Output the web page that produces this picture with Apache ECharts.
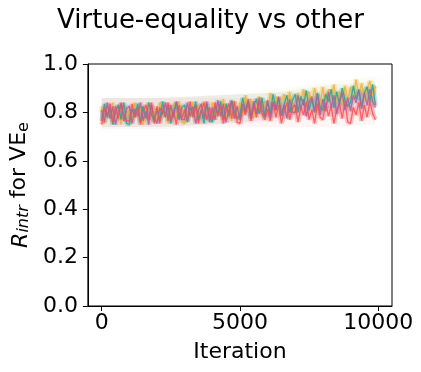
<!DOCTYPE html>
<html>
<head>
<meta charset="utf-8">
<script src="https://cdn.jsdelivr.net/npm/echarts@6/dist/echarts.min.js"></script>
<style>
  html, body { margin: 0; padding: 0; background: #fff; }
  #chart { width: 421px; height: 372px; }
</style>
</head>
<body>
<div id="chart"></div>
<script>
// one value every 100 iterations, 0 .. 9900
const iterStep = 100;
const xTicks = [0, 5000, 10000];
const yTicks = [0, 0.2, 0.4, 0.6, 0.8, 1.0];

const yellowVals = [
  0.825,0.755,0.815,0.785,0.84,0.765,0.805,0.75,0.83,0.775,
  0.81,0.76,0.84,0.78,0.825,0.75,0.80,0.835,0.77,0.815,
  0.77,0.84,0.785,0.825,0.755,0.81,0.835,0.775,0.845,0.76,
  0.755,0.82,0.79,0.84,0.765,0.83,0.78,0.845,0.795,0.77,
  0.84,0.77,0.83,0.80,0.855,0.78,0.82,0.765,0.845,0.79,
  0.84,0.79,0.87,0.805,0.855,0.78,0.83,0.865,0.795,0.845,
  0.81,0.88,0.825,0.865,0.80,0.85,0.875,0.815,0.885,0.80,
  0.815,0.88,0.85,0.895,0.825,0.885,0.84,0.90,0.855,0.83,
  0.905,0.835,0.895,0.865,0.915,0.845,0.885,0.83,0.91,0.855,
  0.905,0.86,0.935,0.87,0.92,0.85,0.895,0.93,0.865,0.91
];
const tealVals = [
  0.765,0.835,0.78,0.82,0.75,0.805,0.83,0.77,0.84,0.755,
  0.75,0.815,0.785,0.835,0.76,0.825,0.775,0.84,0.79,0.765,
  0.815,0.765,0.845,0.78,0.83,0.755,0.805,0.84,0.77,0.82,
  0.83,0.76,0.82,0.79,0.845,0.77,0.81,0.755,0.835,0.78,
  0.76,0.825,0.795,0.845,0.77,0.835,0.785,0.85,0.80,0.775,
  0.79,0.86,0.80,0.845,0.775,0.83,0.855,0.795,0.86,0.78,
  0.845,0.795,0.875,0.81,0.86,0.785,0.835,0.87,0.80,0.85,
  0.875,0.80,0.865,0.83,0.89,0.81,0.855,0.80,0.88,0.82,
  0.81,0.875,0.845,0.895,0.82,0.885,0.835,0.90,0.85,0.825,
  0.84,0.91,0.855,0.895,0.825,0.88,0.905,0.845,0.915,0.83
];
const redVals = [
  0.75,0.815,0.785,0.835,0.76,0.825,0.775,0.84,0.79,0.765,
  0.765,0.835,0.78,0.82,0.75,0.805,0.83,0.77,0.84,0.755,
  0.825,0.755,0.815,0.785,0.84,0.765,0.805,0.75,0.83,0.775,
  0.81,0.765,0.845,0.78,0.83,0.755,0.805,0.84,0.77,0.82,
  0.77,0.84,0.785,0.825,0.755,0.81,0.835,0.775,0.845,0.76,
  0.755,0.82,0.79,0.84,0.765,0.83,0.78,0.845,0.795,0.77,
  0.815,0.765,0.845,0.78,0.83,0.755,0.805,0.84,0.77,0.82,
  0.83,0.76,0.82,0.79,0.845,0.77,0.81,0.755,0.835,0.78,
  0.77,0.84,0.785,0.825,0.755,0.81,0.835,0.775,0.845,0.76,
  0.755,0.82,0.79,0.84,0.765,0.83,0.78,0.845,0.795,0.77
];
const purpleVals = [
  0.81,0.76,0.84,0.775,0.825,0.75,0.80,0.835,0.765,0.815,
  0.825,0.755,0.815,0.785,0.84,0.765,0.805,0.75,0.83,0.775,
  0.755,0.82,0.79,0.84,0.765,0.83,0.78,0.845,0.795,0.77,
  0.77,0.84,0.785,0.825,0.755,0.81,0.835,0.775,0.845,0.76,
  0.82,0.77,0.85,0.785,0.835,0.76,0.81,0.845,0.775,0.825,
  0.77,0.835,0.805,0.855,0.78,0.845,0.795,0.86,0.81,0.785,
  0.85,0.78,0.84,0.81,0.865,0.79,0.83,0.775,0.855,0.80,
  0.80,0.87,0.815,0.855,0.785,0.84,0.865,0.805,0.875,0.79,
  0.855,0.805,0.885,0.82,0.87,0.795,0.845,0.88,0.81,0.86,
  0.805,0.87,0.84,0.89,0.815,0.88,0.83,0.895,0.845,0.82
];

// shaded spread around each run, read at a few iterations
const bandIters = [0, 2000, 4000, 6000, 8000, 9900];
const yellowLo = [0.74, 0.74, 0.75, 0.77, 0.80, 0.83];
const yellowHi = [0.86, 0.86, 0.87, 0.89, 0.92, 0.95];
const tealLo   = [0.74, 0.74, 0.75, 0.77, 0.79, 0.81];
const tealHi   = [0.86, 0.86, 0.87, 0.88, 0.91, 0.93];
const redLo    = [0.73, 0.73, 0.74, 0.74, 0.74, 0.75];
const redHi    = [0.86, 0.86, 0.86, 0.86, 0.86, 0.86];
const purpleLo = [0.74, 0.74, 0.75, 0.76, 0.78, 0.79];
const purpleHi = [0.86, 0.86, 0.87, 0.88, 0.89, 0.91];

const runs = [
  { name: 'yellow', color: '#ebb33e', vals: yellowVals, lo: yellowLo, hi: yellowHi },
  { name: 'teal',   color: '#2aa58e', vals: tealVals,   lo: tealLo,   hi: tealHi },
  { name: 'red',    color: '#ff4f55', vals: redVals,    lo: redLo,    hi: redHi },
  { name: 'purple', color: '#b0609a', vals: purpleVals, lo: purpleLo, hi: purpleHi }
];

const font = 'DejaVu Sans, Liberation Sans, sans-serif';

function toPoints(vals) {
  return vals.map((v, i) => [i * iterStep, v]);
}

const series = [];
runs.forEach(r => {
  // the whole band drawn once as a polygon through the axis scales
  series.push({
    name: r.name + '-band',
    type: 'custom',
    silent: true,
    data: bandIters.map((x, i) => [x, r.lo[i], r.hi[i]]),
    encode: { x: 0, y: [1, 2] },
    renderItem: (params, api) => {
      if (params.dataIndex !== 0) return;
      const top = bandIters.map((x, i) => api.coord([x, r.hi[i]]));
      const bottom = bandIters.map((x, i) => api.coord([x, r.lo[i]])).reverse();
      return {
        type: 'polygon',
        shape: { points: top.concat(bottom) },
        style: { fill: r.color, opacity: 0.06 }
      };
    },
    z: 1
  });
});
runs.forEach(r => {
  series.push({
    name: r.name + '-core',
    type: 'line',
    data: toPoints(r.vals),
    showSymbol: false,
    silent: true,
    lineStyle: { color: r.color, width: 5, opacity: 0.3 },
    z: 2
  });
});
runs.forEach(r => {
  series.push({
    name: r.name,
    type: 'line',
    data: toPoints(r.vals),
    showSymbol: false,
    lineStyle: { color: r.color, width: 1.3, opacity: 0.85 },
    z: 3
  });
});

const chart = echarts.init(document.getElementById('chart'));
chart.setOption({
  animation: false,
  title: {
    text: 'Virtue-equality vs other',
    left: 'center',
    top: 3,
    textStyle: { fontFamily: font, fontSize: 26, fontWeight: 'normal', color: '#000' }
  },
  grid: {
    left: 82, right: 29, top: 64, bottom: 66,
    show: true, borderColor: '#000', borderWidth: 1
  },
  xAxis: {
    type: 'value',
    min: -500,
    max: 10500,
    name: 'Iteration',
    nameLocation: 'middle',
    nameGap: 35,
    nameTextStyle: { fontFamily: font, fontSize: 22, color: '#000' },
    axisLine: { show: true, onZero: false, lineStyle: { color: '#000', width: 1 } },
    axisTick: { show: true, length: 5, customValues: xTicks, lineStyle: { color: '#000' } },
    axisLabel: {
      customValues: xTicks, fontFamily: font, fontSize: 22, color: '#000', margin: 6,
      formatter: v => String(v)
    },
    splitLine: { show: false }
  },
  yAxis: {
    type: 'value',
    min: 0,
    max: 1,
    interval: 0.2,
    name: '{i|R}{sub|intr} for VE{s2|e}',
    nameLocation: 'middle',
    nameGap: 54,
    nameRotate: 90,
    nameTextStyle: {
      fontFamily: font, fontSize: 22, color: '#000',
      rich: {
        i: { fontFamily: font, fontSize: 22, fontStyle: 'italic', color: '#000', verticalAlign: 'bottom', lineHeight: 26 },
        sub: { fontFamily: font, fontSize: 16, fontStyle: 'italic', color: '#000', verticalAlign: 'bottom', lineHeight: 20, padding: [8, 0, 0, 0] },
        s2: { fontFamily: font, fontSize: 16, color: '#000', verticalAlign: 'bottom', lineHeight: 20, padding: [8, 0, 0, 0] }
      }
    },
    axisLine: { show: true, onZero: false, lineStyle: { color: '#000', width: 1 } },
    axisTick: { show: true, length: 5, customValues: yTicks, lineStyle: { color: '#000' } },
    axisLabel: {
      customValues: yTicks, fontFamily: font, fontSize: 22, color: '#000', margin: 10,
      formatter: v => v.toFixed(1)
    },
    splitLine: { show: false }
  },
  series: series
});
</script>
</body>
</html>
